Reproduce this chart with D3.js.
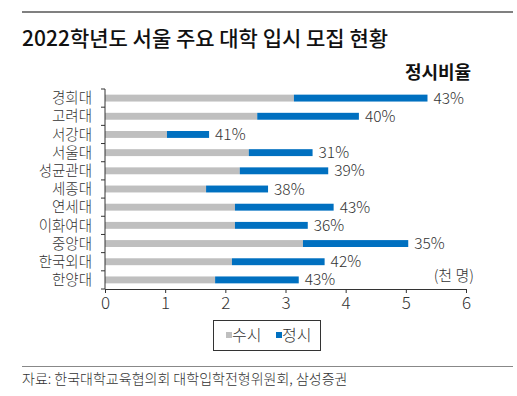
<!DOCTYPE html>
<html>
<head>
<meta charset="utf-8">
<title>2022학년도 서울 주요 대학 입시 모집 현황</title>
<script src="https://d3js.org/d3.v7.min.js"></script>
<style>
  body { margin: 0; background: #fff; }
  text { font-family: "Noto Sans CJK KR", "Noto Sans", sans-serif; }
  .axis path, .axis line { stroke: #333; }
  .axis text { fill: #333; }
</style>
</head>
<body>
<div id="chart"></div>
<script>
// 대학별 모집 인원 (천 명)
var univ = ["경희대","고려대","서강대","서울대","성균관대","세종대","연세대","이화여대","중앙대","한국외대","한양대"];
var susi = [3.14, 2.53, 1.03, 2.39, 2.24, 1.68, 2.16, 2.16, 3.29, 2.11, 1.83];
var jeongsi = [2.22, 1.69, 0.70, 1.06, 1.47, 1.03, 1.64, 1.21, 1.75, 1.54, 1.39];
var ratio = ["43%","40%","41%","31%","39%","38%","43%","36%","35%","42%","43%"];
var xTicks = [0,1,2,3,4,5,6];
var seriesNames = ["수시","정시"];
var colors = ["#BFBFBF","#0070C0"];

var W = 517, H = 396;
var svg = d3.select("#chart").append("svg").attr("width", W).attr("height", H);

// rows for stack
var rows = univ.map(function(u, i) {
  return {univ: u, "수시": susi[i], "정시": jeongsi[i], ratio: ratio[i]};
});

var x = d3.scaleLinear().domain([0, 6]).range([105, 466]);
var y = d3.scaleBand().domain(univ).range([89, 289]).paddingInner(0.62).paddingOuter(0.31);

// title + lines
svg.append("line").attr("x1", 22).attr("x2", 513).attr("y1", 12).attr("y2", 12)
  .attr("stroke", "#808080").attr("stroke-width", 2);
svg.append("text").attr("x", 22).attr("y", 46)
  .attr("font-size", 21).attr("font-weight", 500).attr("fill", "#111")
  .text("2022학년도 서울 주요 대학 입시 모집 현황");
svg.append("text").attr("x", 438).attr("y", 79).attr("text-anchor", "middle")
  .attr("font-size", 18).attr("font-weight", "bold").attr("fill", "#111")
  .text("정시비율");

// stacked bars
var stack = d3.stack().keys(seriesNames)(rows);
svg.selectAll(".series")
  .data(stack)
  .enter().append("g")
  .attr("fill", function(d, i) { return colors[i]; })
  .selectAll("rect")
  .data(function(d) { return d; })
  .enter().append("rect")
  .attr("x", function(d) { return x(d[0]); })
  .attr("y", function(d) { return y(d.data.univ); })
  .attr("width", function(d) { return x(d[1]) - x(d[0]); })
  .attr("height", y.bandwidth());

// ratio labels
svg.selectAll(".ratio")
  .data(stack[1])
  .enter().append("text")
  .attr("x", function(d) { return x(d[1]) + 6; })
  .attr("y", function(d) { return y(d.data.univ) + y.bandwidth() / 2; })
  .attr("dy", "0.36em")
  .attr("font-size", 15.5).attr("font-weight", 300).attr("fill", "#333")
  .text(function(d) { return d.data.ratio; });

// x axis
svg.append("g")
  .attr("class", "axis")
  .attr("transform", "translate(0,289)")
  .call(d3.axisBottom(x).tickValues(xTicks).tickFormat(d3.format("d")).tickSize(4).tickPadding(4).tickSizeOuter(0))
  .selectAll("text").attr("font-size", 17).attr("font-weight", 300);

// y axis: ticks between bands
var yg = svg.append("g").attr("class", "axis");
var edges = univ.map(function(u) { return y(u) - y.step() * y.paddingOuter(); });
edges.push(289);
yg.append("line").attr("x1", 105).attr("x2", 105).attr("y1", 89).attr("y2", 289).attr("stroke", "#333");
yg.selectAll(".tk").data(edges).enter().append("line")
  .attr("x1", 101).attr("x2", 105)
  .attr("y1", function(d) { return d; }).attr("y2", function(d) { return d; })
  .attr("stroke", "#333");
yg.selectAll(".lbl").data(univ).enter().append("text")
  .attr("x", 92).attr("y", function(d) { return y(d) + y.bandwidth() / 2; })
  .attr("dy", "0.36em").attr("text-anchor", "end")
  .attr("font-size", 14.5).attr("font-weight", 300).attr("fill", "#333")
  .text(function(d) { return d; });

// unit
svg.append("text").attr("x", 474).attr("y", 276).attr("dy", "0.36em").attr("text-anchor", "end")
  .attr("font-size", 15).attr("font-weight", 300).attr("fill", "#333").text("(천 명)");

// legend
var lg = svg.append("g");
lg.append("rect").attr("x", 213.5).attr("y", 320.5).attr("width", 107).attr("height", 30)
  .attr("fill", "none").attr("stroke", "#333");
var legX = [226, 276];
seriesNames.forEach(function(s, i) {
  lg.append("rect").attr("x", legX[i]).attr("y", 332).attr("width", 6).attr("height", 6).attr("fill", colors[i]);
  lg.append("text").attr("x", legX[i] + 6).attr("y", 335).attr("dy", "0.36em")
    .attr("font-size", 16).attr("font-weight", 300).attr("fill", "#333").text(s);
});

// source
svg.append("line").attr("x1", 22).attr("x2", 513).attr("y1", 366.5).attr("y2", 366.5)
  .attr("stroke", "#888").attr("stroke-width", 1);
svg.append("text").attr("x", 22).attr("y", 384)
  .attr("font-size", 14).attr("font-weight", 300).attr("fill", "#333")
  .text("자료: 한국대학교육협의회 대학입학전형위원회, 삼성증권");
</script>
</body>
</html>
